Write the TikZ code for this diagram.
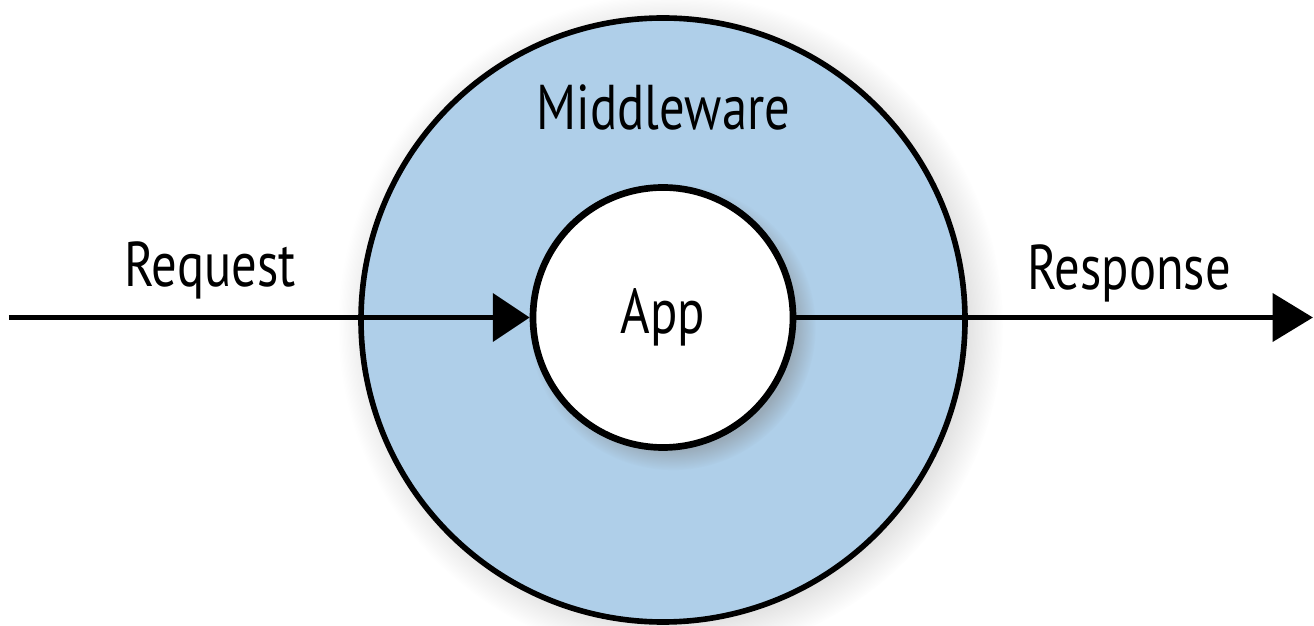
\documentclass[tikz,border=0pt]{standalone}
\usepackage{fontspec}
\setmainfont[FakeStretch=0.8]{PT Sans}
\usetikzlibrary{arrows.meta}
\usetikzlibrary{shadows}
\definecolor{BLUE}{HTML}{AFCFE9}
\definecolor{BLACK}{HTML}{000000}

\begin{document}
\begin{tikzpicture}[txt/.style={text=BLACK, font=\fontsize{36}{40}\selectfont}]
    \useasboundingbox (0,0) rectangle (26.28,12.5);
    \node[circle, draw=BLACK, line width=3.2pt, fill=BLUE, minimum size=12.08cm, circular drop shadow={shadow xshift=4pt, shadow yshift=-3pt, opacity=0.3}] (mw) at (13.26,6.10) {};
    \node[circle, draw=BLACK, line width=3.8pt, fill=white, minimum size=5.2cm, circular drop shadow={shadow xshift=5pt, shadow yshift=-5pt, opacity=0.45}, txt] (app) at (13.26,6.15) {App};
    \coordinate (reqstart) at (0.18,6.15);
    \coordinate (resend) at (26.26,6.15);
    \draw[BLACK, line width=3.4pt, -{Triangle[length=21pt, width=27pt]}] (reqstart) -- (app.west);
    \draw[BLACK, line width=3.4pt, -{Triangle[length=23pt, width=27pt]}] (app.east) -- (resend);
    \node[txt, anchor=base] (mwtext) at (13.27,9.90) {Middleware};
    \node[txt, anchor=base] (reqtext) at (4.20,6.76) {Request};
    \node[txt, anchor=base] (restext) at (22.58,6.70) {Response};
\end{tikzpicture}
\end{document}
